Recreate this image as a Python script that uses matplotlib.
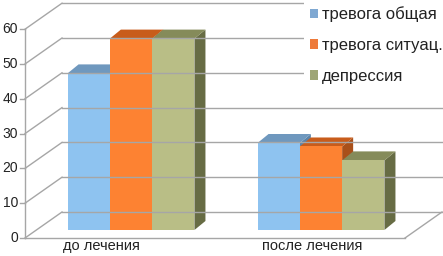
import matplotlib.pyplot as plt
from matplotlib.patches import Polygon, Patch

# данные диаграммы
categories = ['до лечения', 'после лечения']
series_names = ['тревога общая', 'тревога ситуац.', 'депрессия']
trevoga_obsh = [45, 25]
trevoga_sit = [55, 24]
depressiya = [55, 20]
y_ticks = [0, 10, 20, 30, 40, 50, 60]

series_values = [trevoga_obsh, trevoga_sit, depressiya]
# цвета: лицевая грань, верх, бок, маркер легенды
face_colors = ['#8EC3F0', '#FD8232', '#B9BE86']
top_colors = ['#6F98BE', '#C85C1B', '#858B5A']
side_colors = ['#5B83A8', '#A9501A', '#676C44']
legend_colors = ['#7FA8D2', '#EE7A3A', '#9EA576']

plt.rcParams['font.family'] = ['Liberation Sans', 'DejaVu Sans']

fig = plt.figure(figsize=(4.43, 2.56), dpi=100)
ax = fig.add_axes([0, 0, 1, 1])

# масштаб: пикселей на единицу
px_x = 190.0
px_y = 3.48
x_left_px = 25
y_zero_px = 238
ax.set_xlim(-0.5 - x_left_px / px_x, -0.5 + (443 - x_left_px) / px_x)
ax.set_ylim(-(256 - y_zero_px) / px_y, y_zero_px / px_y)
ax.axis('off')

xL, xR = -0.5, len(categories) - 0.5
ddx, ddy = 37 / px_x, 26 / px_y        # глубина пола
fx, fy = 11 / px_x, 8 / px_y           # смещение лицевой грани столбцов
bx, by = 11 / px_x, 9 / px_y           # глубина столбца
w = 42.3 / px_x
grid_col = '#A6A6A6'
lw = 1.0

# сетка: левая стенка и задняя стенка
for t in y_ticks:
    ax.plot([xL, xL + ddx], [t, t + ddy], color=grid_col, lw=lw, clip_on=False)
    ax.plot([xL + ddx, xR + ddx], [t + ddy, t + ddy], color=grid_col, lw=lw, clip_on=False)
    ax.plot([xL - 5 / px_x, xL], [t, t], color=grid_col, lw=lw, clip_on=False)
    ax.text(xL - 7 / px_x, t, str(t), ha='right', va='center', fontsize=10, color='#222222')
ax.plot([xL, xL], [0, y_ticks[-1]], color=grid_col, lw=lw)
ax.plot([xL, xR], [0, 0], color=grid_col, lw=lw)
ax.plot([xR, xR + ddx], [0, ddy], color=grid_col, lw=lw, clip_on=False)

# столбцы
n = len(series_values)
for ci in range(len(categories)):
    for si in range(n):
        v = series_values[si][ci]
        x0 = ci + (si - n / 2) * w + fx
        x1 = x0 + w
        y0 = fy
        y1 = fy + v
        side = [(x1, y0), (x1 + bx, y0 + by), (x1 + bx, y1 + by), (x1, y1)]
        top = [(x0, y1), (x1, y1), (x1 + bx, y1 + by), (x0 + bx, y1 + by)]
        front = [(x0, y0), (x1, y0), (x1, y1), (x0, y1)]
        ax.add_patch(Polygon(side, closed=True, facecolor=side_colors[si], edgecolor='none'))
        ax.add_patch(Polygon(top, closed=True, facecolor=top_colors[si], edgecolor='none'))
        ax.add_patch(Polygon(front, closed=True, facecolor=face_colors[si], edgecolor='none'))

# подписи категорий
label_shift = [-0.1, 0.01]
for ci, name in enumerate(categories):
    ax.text(ci + label_shift[ci], -2.3, name, ha='center', va='center', fontsize=10.5, color='#222222')

handles = [Patch(facecolor=c, edgecolor='none') for c in legend_colors]
leg = ax.legend(handles, series_names, loc='upper left', bbox_to_anchor=(304 / 443, 1.0),
                frameon=True, facecolor='white', edgecolor='none', framealpha=1,
                fontsize=12, handlelength=0.48, handleheight=0.48, handletextpad=0.24,
                labelspacing=0.95, borderpad=0.38, borderaxespad=0)
leg.get_frame().set_boxstyle('square', pad=0)
for txt in leg.get_texts():
    txt.set_color('#222222')

fig.savefig('out.png', dpi=100)
